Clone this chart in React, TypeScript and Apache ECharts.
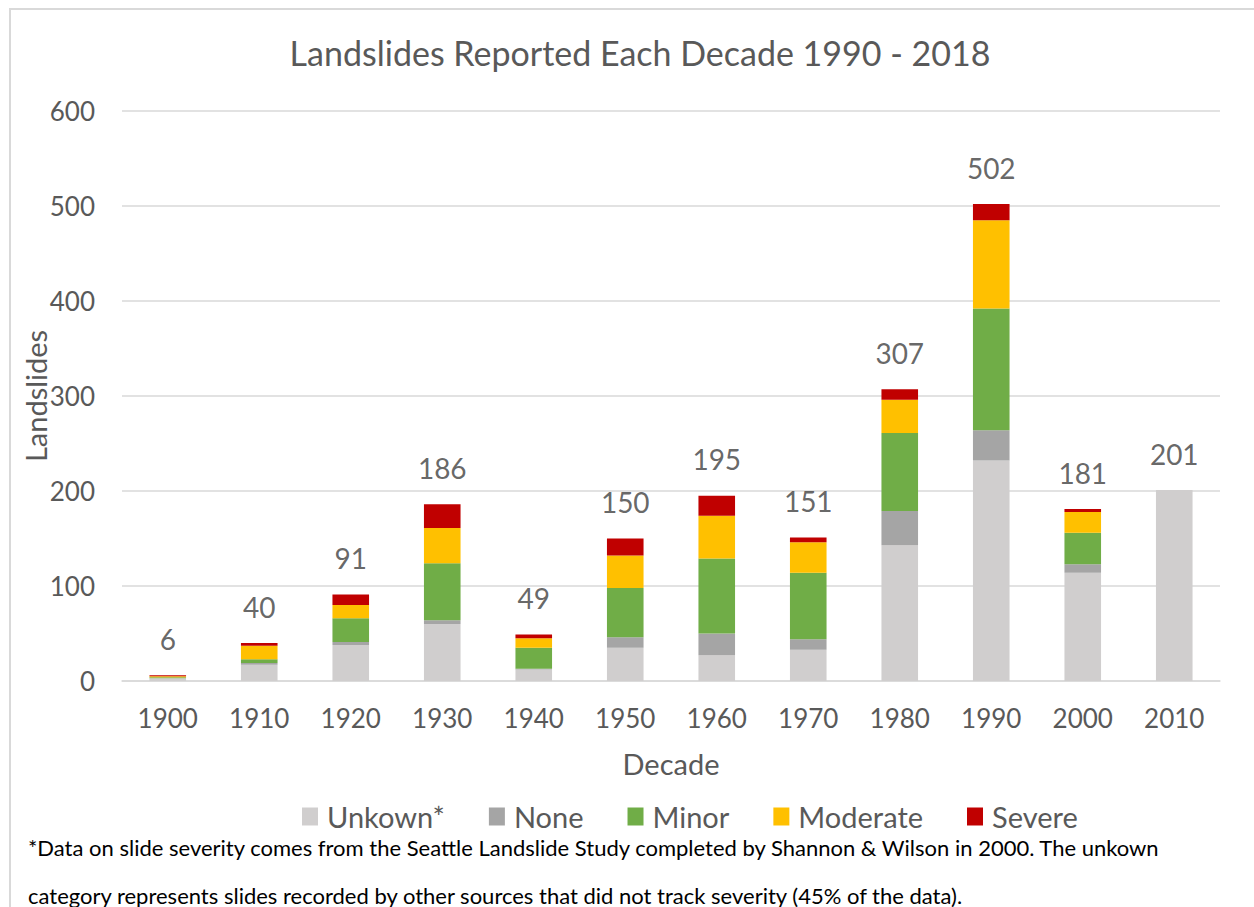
import React, { useEffect, useRef } from "react";
import * as echarts from "echarts";

const decades = ["1900", "1910", "1920", "1930", "1940", "1950", "1960", "1970", "1980", "1990", "2000", "2010"];
const unknown = [3, 17, 38, 60, 12, 35, 27, 33, 143, 232, 114, 201];
const none = [0, 2, 3, 4, 1, 11, 23, 11, 36, 32, 9, 0];
const minor = [1, 4, 25, 60, 22, 52, 79, 70, 82, 128, 33, 0];
const moderate = [1, 14, 14, 37, 10, 34, 45, 32, 35, 93, 22, 0];
const severe = [1, 3, 11, 25, 4, 18, 21, 5, 11, 17, 3, 0];
const totals = [6, 40, 91, 186, 49, 150, 195, 151, 307, 502, 181, 201];

const seriesNames = ["Unkown*", "None", "Minor", "Moderate", "Severe"];
const seriesColors = ["#d0cece", "#a5a5a5", "#70ad47", "#ffc000", "#c00000"];
const yTicks = { min: 0, max: 600, interval: 100 };

const titleText = "Landslides Reported Each Decade 1990 - 2018";
const footLine1 = "*Data on slide severity comes from the Seattle Landslide Study completed by Shannon & Wilson in 2000. The unkown";
const footLine2 = "category represents slides recorded by other sources that did not track severity (45% of the data).";

const FONT = "Lato, 'Open Sans', sans-serif";

export default function App() {
  const ref = useRef<HTMLDivElement>(null);
  useEffect(() => {
    if (!ref.current) return;
    const chart = echarts.init(ref.current, undefined, { renderer: "svg" });
    const stacks = [unknown, none, minor, moderate, severe];
    const barSeries = stacks.map((d, i) => ({
      name: seriesNames[i],
      type: "bar",
      stack: "total",
      barWidth: "40%",
      data: d,
      itemStyle: { color: seriesColors[i] },
      emphasis: { disabled: true },
    }));
    chart.setOption({
      animation: false,
      backgroundColor: "#ffffff",
      textStyle: { fontFamily: FONT },
      title: {
        text: titleText,
        left: 635,
        textAlign: "center",
        top: 30,
        textStyle: { fontFamily: FONT, fontSize: 34, fontWeight: "normal", color: "#595959" },
      },
      grid: { left: 122, right: 34, top: 111, bottom: 226, containLabel: false },
      legend: {
        data: seriesNames,
        left: 297,
        top: 797,
        itemWidth: 16,
        itemHeight: 18,
        itemGap: 44,
        icon: "rect",
        selectedMode: false,
        textStyle: { fontFamily: FONT, fontSize: 29, color: "#595959", padding: [0, 0, 0, 4] },
      },
      xAxis: {
        type: "category",
        data: decades,
        name: "Decade",
        nameLocation: "middle",
        nameGap: 68,
        nameMoveOverlap: false,
        nameTextStyle: { fontFamily: FONT, fontSize: 29, color: "#595959" },
        axisLine: { lineStyle: { color: "#d9d9d9", width: 1.5 } },
        axisTick: { show: false },
        axisLabel: { margin: 24, fontFamily: FONT, fontSize: 26, color: "#595959" },
      },
      yAxis: {
        type: "value",
        min: yTicks.min,
        max: yTicks.max,
        interval: yTicks.interval,
        name: "Landslides",
        nameLocation: "middle",
        nameRotate: 90,
        nameGap: 72,
        nameMoveOverlap: false,
        nameTextStyle: { fontFamily: FONT, fontSize: 29, color: "#595959" },
        axisLine: { show: false },
        axisTick: { show: false },
        splitLine: { lineStyle: { color: "#d9d9d9", width: 1.5 } },
        axisLabel: { margin: 27, fontFamily: FONT, fontSize: 26, color: "#595959" },
      },
      series: [
        ...barSeries,
        {
          name: "Total",
          type: "scatter",
          data: totals,
          symbolSize: 1,
          itemStyle: { color: "rgba(0,0,0,0)" },
          silent: true,
          label: {
            show: true,
            position: "top",
            distance: 22,
            fontFamily: FONT,
            fontSize: 28,
            color: "#404040",
          },
        },
      ],
      graphic: [
        {
          type: "rect",
          shape: { x: 10, y: 9, width: 1260, height: 920 },
          style: { fill: "none", stroke: "#d9d9d9", lineWidth: 2 },
          silent: true,
        },
        {
          type: "text",
          x: 28,
          y: 847,
          style: { text: footLine1, fontFamily: FONT, fontSize: 22, fill: "#000000", textVerticalAlign: "middle" },
        },
        {
          type: "text",
          x: 28,
          y: 895,
          style: { text: footLine2, fontFamily: FONT, fontSize: 22, fill: "#000000", textVerticalAlign: "middle" },
        },
      ],
    });
    return () => chart.dispose();
  }, []);
  return (
    <div
      ref={ref}
      style={{ position: "absolute", left: 0, top: 0, width: 1254, height: 907 }}
    />
  );
}
